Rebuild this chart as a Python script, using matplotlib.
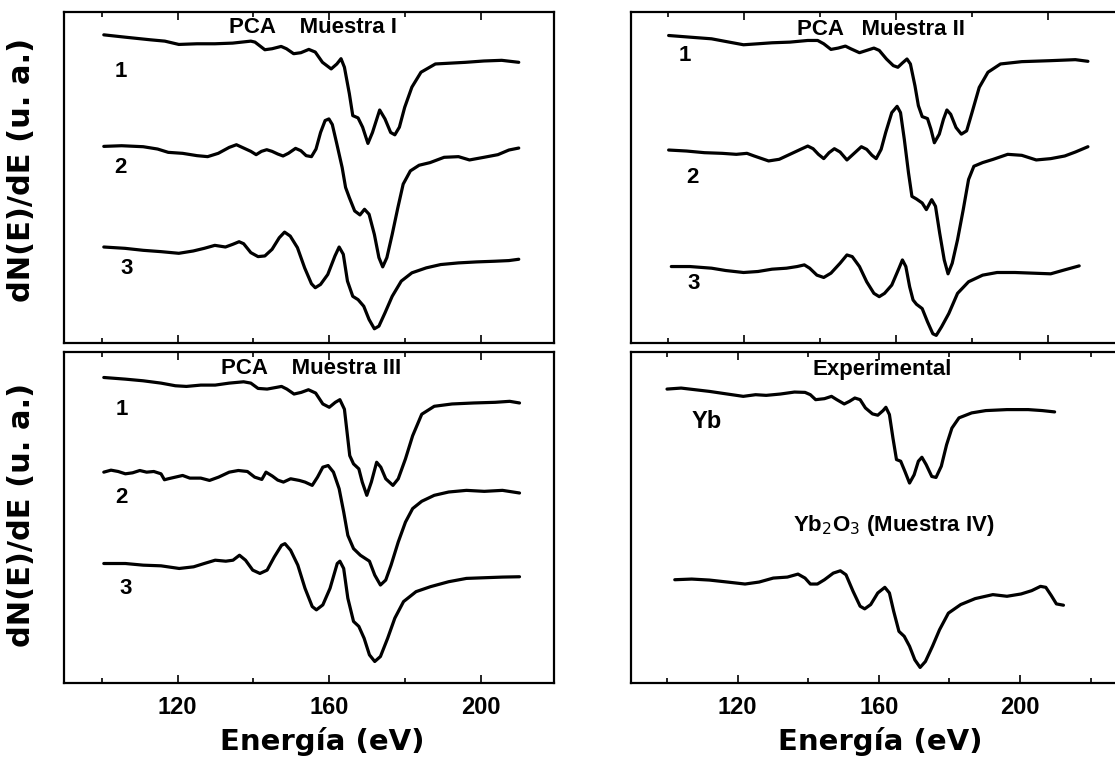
import matplotlib
matplotlib.use("Agg")
import matplotlib.pyplot as plt
from matplotlib.ticker import MultipleLocator

# energía (eV) e intensidad dN/dE (u. a.)

# Muestra I
e_m1_1 = [100.5, 106.1, 112.8, 116.6, 120.3, 125.1, 129.8, 134.5, 139.3, 140.4, 143.0, 144.9, 147.3, 148.7,
          150.6, 152.5, 154.6, 156.3, 158.2, 160.5, 162.0, 163.1, 164.0, 165.3, 166.2, 167.6, 168.8, 170.2,
          171.4, 173.3, 174.7, 176.2, 177.3, 178.5, 179.9, 181.8, 184.2, 188.0, 196.0, 200.8, 205.5, 210.0]
d_m1_1 = [93.1, 92.4, 91.6, 91.2, 90.2, 90.4, 90.4, 90.6, 91.2, 90.9, 88.6, 88.9, 89.6, 88.9,
          87.4, 87.7, 88.7, 87.9, 84.8, 82.8, 84.3, 85.9, 83.3, 75.3, 68.7, 68.0, 65.2, 60.3,
          63.6, 70.4, 67.7, 63.6, 62.9, 65.2, 71.2, 77.3, 81.8, 84.3, 84.8, 85.2, 85.4, 84.8]
e_m1_2 = [100.5, 105.2, 110.9, 114.7, 117.5, 121.3, 125.1, 127.9, 130.7, 133.6, 135.5, 137.4, 139.3, 140.7,
          142.1, 143.5, 144.9, 146.4, 147.8, 149.2, 151.1, 152.5, 153.9, 155.3, 156.5, 157.7, 158.9, 159.9,
          160.8, 162.0, 163.4, 164.3, 165.3, 166.7, 168.1, 169.3, 170.5, 171.9, 173.1, 174.1, 175.2, 176.6,
          178.1, 179.5, 181.4, 183.7, 186.6, 190.3, 194.1, 197.0, 200.8, 204.5, 207.4, 210.0]
d_m1_2 = [59.4, 59.6, 59.3, 58.6, 57.6, 57.3, 56.6, 56.3, 57.3, 59.1, 59.9, 58.9, 57.9, 56.9,
          57.9, 58.4, 57.9, 57.1, 56.5, 57.3, 58.8, 58.1, 56.6, 56.3, 58.6, 63.6, 67.2, 67.7,
          66.0, 60.1, 53.0, 47.0, 43.9, 39.9, 38.7, 40.4, 38.9, 32.8, 25.8, 23.0, 25.8, 32.8,
          40.9, 48.0, 52.0, 53.7, 54.5, 56.1, 56.3, 55.3, 56.1, 56.9, 58.3, 58.9]
e_m1_3 = [100.5, 106.1, 110.9, 115.6, 120.3, 124.1, 127.0, 129.8, 132.6, 134.5, 136.2, 137.4, 139.3, 141.2,
          143.0, 144.9, 146.8, 148.2, 149.7, 151.6, 153.5, 155.3, 156.3, 157.7, 159.6, 161.5, 162.6, 163.7,
          164.8, 166.2, 167.6, 169.1, 170.5, 171.9, 173.1, 174.7, 176.6, 179.0, 181.8, 185.6, 189.4, 194.1,
          198.9, 203.6, 207.4, 210.0]
d_m1_3 = [29.0, 28.6, 28.0, 27.6, 27.1, 27.8, 28.6, 29.5, 29.0, 29.8, 30.6, 30.0, 27.3, 26.1,
          26.3, 28.3, 31.8, 33.5, 32.3, 28.8, 22.7, 17.9, 16.7, 17.7, 20.7, 26.3, 29.0, 26.8,
          18.7, 14.1, 13.1, 11.1, 7.1, 4.3, 5.1, 9.1, 14.1, 18.7, 21.2, 22.7, 23.7, 24.2,
          24.5, 24.7, 24.9, 25.3]

# Muestra II
e_m2_1 = [100.2, 105.8, 111.5, 115.2, 119.9, 123.7, 127.4, 132.1, 136.8, 139.4, 141.0, 142.9, 144.8, 146.7,
          148.1, 150.4, 152.3, 154.2, 155.6, 157.5, 159.3, 160.5, 161.7, 162.9, 163.8, 165.0, 165.9, 166.9,
          168.3, 169.2, 170.1, 171.4, 172.5, 173.4, 174.4, 175.8, 177.2, 178.6, 180.0, 181.9, 184.2, 187.5,
          193.1, 200.7, 207.2, 210.5]
d_m2_1 = [92.9, 92.4, 91.9, 91.1, 90.1, 90.4, 90.7, 90.9, 91.4, 91.4, 90.4, 88.7, 89.1, 89.7,
          88.9, 87.7, 88.4, 89.1, 88.4, 85.8, 83.8, 83.3, 84.6, 85.8, 84.3, 77.7, 71.7, 68.4,
          67.8, 64.6, 60.5, 63.1, 67.6, 70.4, 69.1, 65.1, 63.1, 64.1, 69.6, 77.2, 81.8, 84.3,
          85.0, 85.3, 85.6, 85.1]
e_m2_2 = [100.2, 104.9, 109.6, 114.3, 118.0, 120.8, 122.7, 126.5, 129.3, 132.1, 134.9, 136.8, 138.2, 139.6,
          141.0, 142.4, 143.8, 145.3, 147.1, 149.0, 150.9, 152.3, 153.7, 154.8, 156.1, 157.3, 158.9, 160.3,
          161.2, 162.2, 163.3, 164.2, 165.4, 166.9, 168.0, 169.4, 170.4, 171.5, 172.7, 173.7, 174.8, 176.2,
          177.7, 179.1, 180.5, 182.8, 185.6, 189.4, 193.1, 196.9, 200.7, 204.4, 207.2, 210.5]
d_m2_2 = [58.3, 58.0, 57.5, 57.3, 57.0, 57.3, 56.5, 55.0, 55.5, 57.0, 58.5, 59.5, 58.7, 57.0,
          55.7, 57.5, 58.7, 57.7, 55.3, 57.3, 59.3, 58.5, 56.7, 55.7, 58.5, 63.6, 69.6, 71.5,
          69.6, 61.5, 51.4, 44.3, 43.5, 42.3, 40.3, 43.3, 41.3, 33.2, 25.1, 20.9, 24.1, 31.2,
          40.3, 49.4, 53.4, 54.5, 55.5, 57.0, 56.7, 55.3, 55.7, 56.5, 57.7, 59.3]
e_m2_3 = [100.9, 105.8, 111.5, 115.2, 119.9, 123.7, 127.4, 131.2, 134.0, 135.9, 137.3, 139.2, 141.0, 142.9,
          145.3, 147.1, 148.5, 150.4, 152.3, 154.2, 155.6, 157.0, 158.9, 160.8, 161.7, 162.6, 163.6, 164.5,
          165.4, 166.9, 168.3, 169.7, 170.6, 172.0, 173.9, 176.2, 179.1, 182.8, 186.6, 191.3, 196.0, 200.7,
          204.4, 208.2]
d_m2_3 = [23.1, 23.1, 22.6, 21.9, 21.3, 21.6, 22.3, 22.6, 23.1, 23.6, 22.6, 20.5, 19.8, 21.1,
          24.1, 26.6, 26.1, 23.1, 18.5, 15.0, 14.0, 15.0, 17.5, 22.6, 25.1, 23.1, 17.0, 13.0,
          11.7, 10.4, 6.4, 2.8, 2.3, 4.9, 8.9, 15.0, 18.5, 20.5, 21.3, 21.3, 21.1, 20.9,
          22.1, 23.3]

# Muestra III
e_m3_1 = [100.5, 106.2, 110.9, 115.6, 119.4, 122.3, 126.1, 129.9, 133.6, 137.4, 139.3, 141.2, 143.6, 146.0,
          147.4, 148.8, 150.7, 152.6, 154.5, 156.4, 158.3, 160.0, 161.6, 162.8, 164.0, 164.7, 165.4, 166.4,
          167.8, 168.7, 169.9, 171.1, 172.5, 173.6, 174.9, 176.8, 178.2, 180.1, 182.0, 184.4, 187.7, 192.4,
          198.1, 203.8, 207.6, 210.2]
d_m3_1 = [92.3, 91.8, 91.3, 90.6, 89.8, 89.6, 90.0, 90.0, 90.6, 91.0, 90.6, 89.0, 88.8, 89.3,
          89.6, 88.8, 87.3, 87.8, 88.6, 87.6, 84.3, 83.3, 84.8, 85.6, 82.7, 75.7, 68.7, 66.2,
          64.7, 60.7, 56.7, 60.7, 66.7, 65.2, 61.7, 59.7, 61.7, 67.7, 74.7, 81.2, 83.6, 84.3,
          84.6, 84.8, 85.1, 84.6]
e_m3_2 = [100.5, 102.4, 104.3, 106.2, 108.1, 110.0, 111.8, 113.7, 115.6, 116.5, 117.5, 119.4, 121.3, 123.2,
          126.1, 128.4, 130.8, 133.6, 136.0, 138.4, 140.3, 142.2, 143.3, 145.0, 146.4, 147.9, 149.8, 152.1,
          153.6, 155.5, 156.9, 158.3, 159.7, 161.1, 162.6, 163.8, 164.9, 166.4, 168.2, 170.6, 172.0, 173.5,
          174.9, 176.3, 178.2, 180.1, 182.0, 184.4, 187.7, 191.5, 196.2, 200.9, 205.7, 210.2]
d_m3_2 = [63.7, 64.3, 63.9, 63.2, 63.5, 64.2, 63.7, 63.9, 63.2, 61.4, 61.7, 62.2, 62.7, 61.9,
          61.9, 61.2, 62.2, 63.7, 64.2, 63.9, 62.2, 61.5, 63.7, 62.5, 61.3, 60.7, 61.7, 61.2,
          60.7, 59.7, 62.2, 65.2, 65.7, 63.7, 58.7, 51.7, 44.6, 40.6, 38.6, 36.8, 32.6, 29.6,
          31.1, 35.6, 42.6, 48.6, 52.7, 54.9, 56.7, 57.7, 58.2, 57.9, 58.2, 57.4]
e_m3_3 = [100.5, 106.2, 110.9, 115.6, 120.4, 124.2, 127.0, 129.9, 132.7, 134.6, 136.3, 137.9, 139.8, 141.7,
          143.6, 145.5, 147.4, 148.3, 149.8, 151.7, 153.6, 155.5, 156.6, 158.3, 160.2, 162.1, 162.8, 163.8,
          164.9, 166.4, 167.8, 169.2, 170.6, 172.0, 173.5, 175.4, 177.3, 179.6, 182.9, 186.7, 191.5, 196.2,
          200.9, 205.7, 210.2]
d_m3_3 = [36.1, 36.1, 35.6, 35.4, 34.6, 35.1, 36.1, 37.1, 36.8, 37.1, 38.6, 37.1, 34.1, 33.1,
          34.1, 38.1, 41.6, 42.1, 40.1, 35.6, 28.6, 23.1, 22.1, 23.6, 28.6, 36.1, 36.8, 34.6,
          25.6, 18.6, 17.1, 13.5, 8.5, 6.5, 8.0, 13.5, 19.6, 24.6, 27.6, 29.1, 30.6, 31.6,
          31.8, 32.0, 32.1]

# Experimental: Yb y Yb2O3 (Muestra IV)
e_yb = [100.0, 104.0, 108.0, 112.0, 117.1, 121.6, 125.1, 128.1, 132.1, 136.1, 139.1, 140.6, 142.1, 144.6,
        146.6, 148.1, 150.2, 151.7, 153.2, 154.7, 156.2, 158.2, 159.7, 161.2, 162.0, 163.0, 164.0, 165.0,
        166.2, 167.4, 168.7, 170.0, 171.2, 172.2, 173.4, 175.0, 176.2, 177.7, 179.2, 180.7, 182.7, 186.3,
        190.3, 196.3, 202.3, 206.3, 209.8]
d_yb = [88.8, 89.1, 88.6, 88.1, 87.3, 86.6, 87.1, 86.9, 87.3, 87.9, 87.8, 87.1, 85.6, 85.9,
        86.6, 85.6, 84.3, 85.1, 86.1, 85.6, 83.1, 81.3, 80.9, 82.3, 83.3, 81.1, 74.0, 67.5,
        67.0, 63.9, 60.4, 62.9, 67.0, 68.2, 66.0, 62.4, 62.1, 65.5, 72.0, 77.0, 80.1, 81.6,
        82.3, 82.6, 82.6, 82.3, 81.9]
e_yb2o3 = [102.2, 107.0, 112.0, 117.1, 122.1, 126.1, 130.1, 134.1, 137.1, 139.1, 140.6, 142.6, 144.6, 147.1,
           149.1, 150.7, 152.7, 154.7, 156.0, 157.7, 159.7, 161.7, 163.0, 164.2, 165.7, 167.2, 168.7, 170.2,
           171.7, 173.2, 175.2, 177.2, 179.7, 183.2, 187.3, 192.3, 196.3, 200.3, 203.3, 205.8, 207.3, 208.8,
           210.3, 212.3]
d_yb2o3 = [31.2, 31.4, 31.1, 30.5, 29.9, 30.5, 31.7, 32.0, 32.9, 31.7, 29.9, 29.9, 31.2, 33.2,
           33.9, 32.7, 27.7, 23.2, 22.4, 23.7, 27.2, 28.9, 27.2, 21.7, 15.6, 14.1, 11.1, 7.0,
           4.7, 6.5, 11.1, 16.1, 21.1, 23.7, 25.5, 26.7, 26.2, 26.9, 27.9, 29.2, 28.9, 26.5,
           23.9, 23.5]

W, H = 1115, 760
fig = plt.figure(figsize=(W / 100, H / 100), dpi=100)

txt = dict(family=['Liberation Sans', 'DejaVu Sans'], fontweight='bold', color='black')

# posiciones de los paneles en pixeles (izq, arriba, der, abajo) y rango de energía
paneles = [
    ((64, 12, 554, 343), (90.0, 219.3)),
    ((631, 12, 1121, 343), (90.3, 219.2)),
    ((64, 352, 554, 683), (90.0, 219.3)),
    ((631, 352, 1121, 683), (89.8, 228.6)),
]
axs = []
for (x0, y0, x1, y1), xl in paneles:
    ax = fig.add_axes([x0 / W, 1 - y1 / H, (x1 - x0) / W, (y1 - y0) / H])
    ax.set_xlim(*xl)
    ax.set_ylim(0, 100)
    ax.xaxis.set_major_locator(MultipleLocator(40))
    ax.xaxis.set_minor_locator(MultipleLocator(20))
    ax.tick_params(axis='x', which='both', direction='in', top=True, width=1.2, color='black')
    ax.tick_params(axis='x', which='major', length=6, pad=9)
    ax.tick_params(axis='x', which='minor', length=3.5)
    ax.set_yticks([])
    for s in ax.spines.values():
        s.set_linewidth(1.6)
    axs.append(ax)

lw = 2.3
series = [
    (axs[0], [(e_m1_1, d_m1_1), (e_m1_2, d_m1_2), (e_m1_3, d_m1_3)]),
    (axs[1], [(e_m2_1, d_m2_1), (e_m2_2, d_m2_2), (e_m2_3, d_m2_3)]),
    (axs[2], [(e_m3_1, d_m3_1), (e_m3_2, d_m3_2), (e_m3_3, d_m3_3)]),
    (axs[3], [(e_yb, d_yb), (e_yb2o3, d_yb2o3)]),
]
for ax, curvas in series:
    for e, d in curvas:
        ax.plot(e, d, color='black', lw=lw, solid_joinstyle='round', solid_capstyle='round')

for ax in axs[:2]:
    ax.set_xticklabels([])
for ax in axs[2:]:
    for t in ax.get_xticklabels():
        t.set_fontsize(17)
        t.set_fontfamily(['Liberation Sans', 'DejaVu Sans'])
        t.set_fontweight('bold')

# etiquetas de las curvas
num_pos = {
    0: [(0.116, 0.82), (0.116, 0.53), (0.128, 0.225)],
    1: [(0.11, 0.87), (0.125, 0.50), (0.127, 0.18)],
    2: [(0.118, 0.825), (0.118, 0.56), (0.125, 0.287)],
}
for i, pos in num_pos.items():
    for k, (x, y) in enumerate(pos):
        axs[i].text(x, y, str(k + 1), transform=axs[i].transAxes, ha='center', va='center', fontsize=16, **txt)

def rotulo(ax, x, y, s, size=16):
    ax.text(x, y, s, transform=ax.transAxes, ha='left', va='center', fontsize=size, **txt)

rotulo(axs[0], 0.337, 0.952, 'PCA    Muestra I')
rotulo(axs[1], 0.339, 0.946, 'PCA   Muestra II')
rotulo(axs[2], 0.32, 0.95, 'PCA    Muestra III')
rotulo(axs[3], 0.371, 0.946, 'Experimental')
rotulo(axs[3], 0.124, 0.79, 'Yb', 17)
rotulo(axs[3], 0.331, 0.477, 'Yb$_2$O$_3$ (Muestra IV)')

ylab = 'dN(E)/dE (u. a.)'
for yc in (0.776, 0.322):
    fig.text(22 / W, yc, ylab, rotation=90, ha='center', va='center', fontsize=22, fontweight='bold')
for xc in (322, 880):
    fig.text(xc / W, 0.024, 'Energía (eV)', ha='center', va='center', fontsize=21, fontweight='bold')

fig.savefig('out.png', dpi=100)
